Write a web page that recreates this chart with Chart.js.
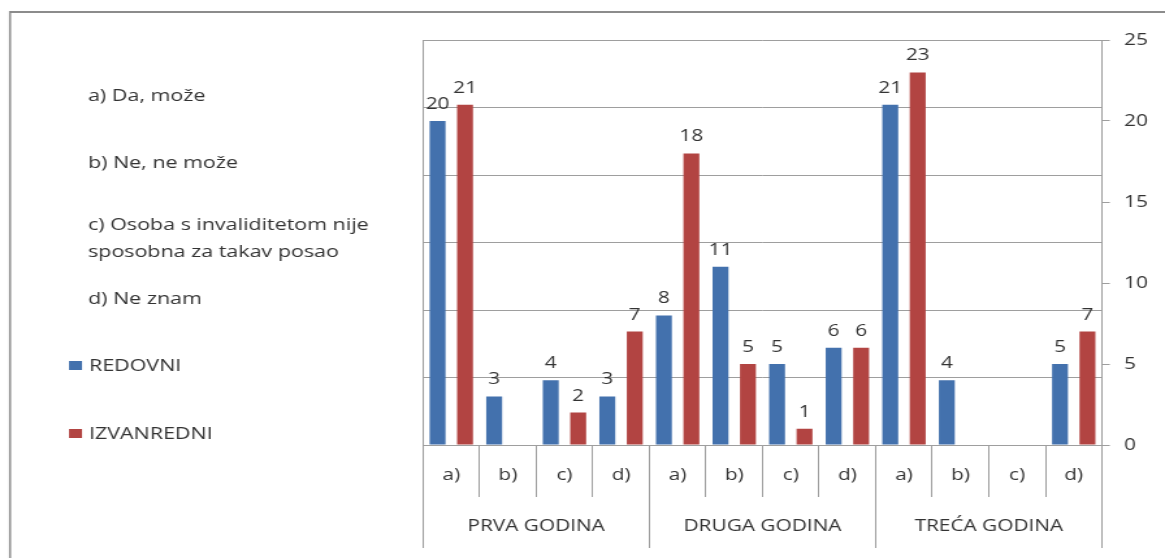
<!DOCTYPE html>
<html>
<head>
<meta charset="utf-8">
<script src="https://cdn.jsdelivr.net/npm/chart.js@4"></script>
<style>
  html, body { margin: 0; padding: 0; background: #fff; overflow: hidden; }
  /* the original picture is stretched sideways, so the canvas is too */
  #wrap { width: 896px; height: 558px; transform: scaleX(1.30022); transform-origin: 0 0; }
</style>
</head>
<body>
<div id="wrap"><canvas id="myChart" width="896" height="558"></canvas></div>
<script>
const answers = ['a)', 'b)', 'c)', 'd)'];
const years = ['PRVA GODINA', 'DRUGA GODINA', 'TREĆA GODINA'];
const answerNotes = ['a) Da, može', 'b) Ne, ne može', ['c) Osoba s invaliditetom nije', 'sposobna za takav posao'], 'd) Ne znam'];
const seriesNames = ['REDOVNI', 'IZVANREDNI'];
const redovni = [20, 3, 4, 3, 8, 11, 5, 6, 21, 4, null, 5];
const izvanredni = [21, null, 2, 7, 18, 5, 1, 6, 23, null, null, 7];
const yTicks = [0, 5, 10, 15, 20, 25];

const S = 1.30022;
const textColor = '#333333';
const gridColor = '#9e9e9e';
const colors = ['#4371ad', '#b24442'];

Chart.defaults.font.family = '"Open Sans", sans-serif';
Chart.defaults.font.size = 16;

// values above the bars
const valueLabels = {
    id: 'valueLabels',
    afterDatasetsDraw(chart) {
        const ctx = chart.ctx;
        ctx.save();
        ctx.font = '16px "Open Sans"';
        ctx.fillStyle = textColor;
        ctx.textAlign = 'center';
        ctx.textBaseline = 'alphabetic';
        chart.data.datasets.forEach((ds, i) => {
            chart.getDatasetMeta(i).data.forEach((bar, j) => {
                const v = ds.data[j];
                if (v === null) return;
                ctx.fillText(v, bar.x, bar.y - 12);
            });
        });
        ctx.restore();
    }
};

// frame, answer notes and the legend on the left
const sideText = {
    id: 'sideText',
    afterDraw(chart) {
        const ctx = chart.ctx;
        ctx.save();
        ctx.strokeStyle = '#8c8c8c';
        ctx.lineWidth = 2;
        ctx.beginPath();
        ctx.moveTo(10 / S, 12);
        ctx.lineTo(chart.width, 12);
        ctx.stroke();
        ctx.lineWidth = 1.6;
        ctx.beginPath();
        ctx.moveTo(10 / S, 11);
        ctx.lineTo(10 / S, chart.height);
        ctx.stroke();

        ctx.font = '16.5px "Open Sans"';
        ctx.fillStyle = textColor;
        ctx.textAlign = 'left';
        ctx.textBaseline = 'alphabetic';
        const baselines = [101, 168, 230, 304];
        answerNotes.forEach((note, i) => {
            const lines = Array.isArray(note) ? note : [note];
            lines.forEach((line, k) => ctx.fillText(line, 88 / S, baselines[i] + k * 27));
        });

        const legendY = [371, 439];
        chart.data.datasets.forEach((ds, i) => {
            ctx.fillStyle = ds.backgroundColor;
            ctx.fillRect(69 / S, legendY[i] - 10, 13 / S, 9);
            ctx.fillStyle = textColor;
            ctx.fillText(ds.label, 89 / S, legendY[i]);
        });
        ctx.restore();
    }
};

const ctx = document.getElementById('myChart').getContext('2d');

new Chart(ctx, {
    type: 'bar',
    data: {
        labels: years.flatMap(() => answers),
        datasets: [
            { label: seriesNames[0], data: redovni, backgroundColor: colors[0], borderWidth: 0 },
            { label: seriesNames[1], data: izvanredni, backgroundColor: colors[1], borderWidth: 0 }
        ]
    },
    options: {
        responsive: false,
        animation: false,
        datasets: { bar: { categoryPercentage: 0.97, barPercentage: 0.58 } },
        layout: { padding: { left: 423 / S, top: 40, right: 0, bottom: 10 } },
        plugins: { legend: { display: false }, tooltip: { enabled: false } },
        scales: {
            x: {
                type: 'category',
                position: 'bottom',
                weight: 0,
                offset: true,
                grid: { offset: true, drawOnChartArea: false, color: gridColor, tickLength: 52 },
                border: { display: true, color: gridColor },
                ticks: { padding: -31, color: textColor, maxRotation: 0, minRotation: 0, autoSkip: false },
                afterFit: s => { s.height = 52; }
            },
            x2: {
                type: 'category',
                labels: years,
                position: 'bottom',
                weight: 1,
                offset: true,
                grid: { offset: true, drawOnChartArea: false, color: gridColor, tickLength: 51 },
                border: { display: false },
                ticks: { padding: -31, color: textColor, maxRotation: 0, minRotation: 0, autoSkip: false },
                afterFit: s => { s.height = 51; }
            },
            y: {
                position: 'right',
                min: yTicks[0],
                max: yTicks[yTicks.length - 1],
                ticks: { stepSize: yTicks[1] - yTicks[0], padding: 11, color: textColor },
                grid: { drawOnChartArea: false, tickLength: 6, color: gridColor },
                border: { color: gridColor },
                afterFit: s => { s.width = 896 - 1102 / S; }
            },
            yGrid: {
                position: 'left',
                min: 0,
                max: 6,
                ticks: { display: false, stepSize: 1 },
                grid: { color: gridColor, drawTicks: false },
                border: { color: gridColor }
            }
        }
    },
    plugins: [valueLabels, sideText]
});
</script>
</body>
</html>
